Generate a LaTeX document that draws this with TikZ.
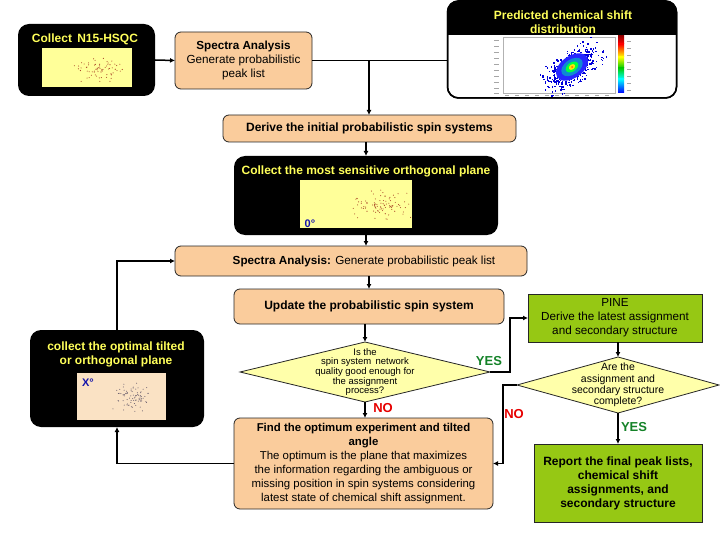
\documentclass[tikz,border=0pt]{standalone}
\usepackage{fontspec}
\setmainfont{Liberation Sans}
\usetikzlibrary{shapes.geometric,arrows.meta,calc}
\definecolor{peach}{RGB}{250,204,156}
\definecolor{lgreen}{RGB}{150,200,20}
\definecolor{dyel}{RGB}{255,255,170}
\definecolor{txtyel}{RGB}{255,255,90}
\definecolor{imgyel}{RGB}{255,255,153}
\definecolor{imgpeach}{RGB}{250,226,196}
\definecolor{yesgreen}{RGB}{20,130,40}
\definecolor{nored}{RGB}{230,0,0}
\definecolor{dotbrown}{RGB}{170,70,40}
\definecolor{dotgray}{RGB}{90,80,100}
\definecolor{xblue}{RGB}{20,20,170}
\begin{document}
\begin{tikzpicture}[x=1pt,y=-1pt,
 every node/.style={inner sep=0pt, outer sep=0pt},
 peachbox/.style={draw=black!85, line width=0.8pt, fill=peach, rounded corners=6pt, align=center},
 greenbox/.style={draw=black!85, line width=1pt, fill=lgreen, align=center},
 blackbox/.style={fill=black, rounded corners=11pt},
 dia/.style={diamond, draw=black!85, line width=0.8pt, fill=dyel},
 arr/.style={line width=1.5pt, -{Latex[length=5pt,width=5pt]}},
 ln/.style={line width=1.5pt},
 ftn/.style={font=\fontsize{11.7}{14}\selectfont},
 ftb/.style={font=\bfseries\fontsize{12}{14}\selectfont},
 ylab/.style={text=txtyel, font=\bfseries\fontsize{12}{14}\selectfont, align=center},
 yes/.style={text=yesgreen, font=\bfseries\fontsize{13}{14}\selectfont},
 no/.style={text=nored, font=\bfseries\fontsize{13}{14}\selectfont},
 deg/.style={text=xblue, font=\bfseries\fontsize{11}{12}\selectfont}
]
\useasboundingbox (0,0) rectangle (720,540);

% ---------- Collect N15-HSQC ----------
\node[blackbox, minimum width=137pt, minimum height=72pt] (hsqc) at (86.5,60) {};
\node[ylab] (hsqct) at (85,39) {Collect\, N15-HSQC};
\node[fill=imgyel, minimum width=90pt, minimum height=39pt] (img1) at (87,67.5) {};
\pgfmathsetseed{7}
\foreach \i in {1,...,70}{
  \pgfmathsetmacro\dx{10+14*(rand+rand)}
  \pgfmathsetmacro\dy{2+7*(rand+rand)}
  \fill[dotbrown] ($(img1.center)+(\dx,\dy)$) circle (0.55);
}

% ---------- Spectra analysis 1 ----------
\node[peachbox, ftn, minimum width=137pt, minimum height=57pt] (spec1) at (243.5,60.5)
  {\textbf{Spectra Analysis}\\Generate probabilistic\\peak list};

% ---------- Predicted chemical shift ----------
\node[draw=black, line width=1.5pt, fill=white, rounded corners=11pt, minimum width=229pt, minimum height=97pt] (pred) at (562,49.5) {};
\begin{scope}
  \clip[rounded corners=11pt] (pred.south west) rectangle (pred.north east);
  \fill[black] (pred.north west) rectangle ($(pred.north east)+(0,34)$);
\end{scope}
\draw[line width=1.5pt, rounded corners=11pt] (pred.south west) rectangle (pred.north east);
\node[ylab] (predt) at (563,22) {Predicted chemical shift\\distribution};
% plot
\draw[gray!60, line width=0.3pt] (503,37) rectangle (615,93);
\foreach \yy in {40,46,52,58,64,70,76,82,88,93}{\fill[gray!70] (494,\yy) rectangle (499,\yy+0.8);}
\foreach \xx in {505,515,525,535,545,555,565,575,585,595,605}{\fill[gray!70] (\xx,95.5) rectangle (\xx+4,96.3);}
\pgfmathsetseed{11}
\foreach \i in {1,...,420}{
  \pgfmathsetmacro\u{19*(rand+rand)}
  \pgfmathsetmacro\v{9*(rand+rand)}
  \fill[blue!85!black] ($(572,67)+(\u*0.8+\v*0.6,-\u*0.6+\v*0.8)$) rectangle ++(1.4,1.4);
}
\begin{scope}[shift={(572,67)}]
  \fill[blue!85] (0,0) ellipse [x radius=18pt, y radius=11pt, rotate=35];
  \fill[cyan!70!blue] (0,0) ellipse [x radius=12pt, y radius=7.5pt, rotate=35];
  \fill[green!75!cyan] (0,0) ellipse [x radius=7pt, y radius=4.5pt, rotate=35];
  \fill[yellow!90!orange] (0,0) ellipse [x radius=3.5pt, y radius=2.5pt, rotate=35];
  \fill[orange!80!red] (0,0) circle (1);
\end{scope}
% colour bar
\shade[top color=red!60!black, bottom color=red] (618,36) rectangle (624,44);
\shade[top color=red, bottom color=yellow] (618,44) rectangle (624,57);
\shade[top color=yellow, bottom color=green!80!black] (618,57) rectangle (624,68);
\shade[top color=green!80!black, bottom color=cyan] (618,68) rectangle (624,79);
\shade[top color=cyan, bottom color=blue] (618,79) rectangle (624,93);
\foreach \yy in {41,48,55,62,69,76,83,90}{\fill[gray!70] (627,\yy) rectangle (631,\yy+0.8);}

% ---------- Derive ----------
\node[peachbox, ftb, minimum width=293pt, minimum height=27pt] (derive) at (369.5,128.5)
  {Derive the initial probabilistic spin systems};

% ---------- Collect most sensitive ----------
\node[blackbox, minimum width=264pt, minimum height=79pt] (coll0) at (366,195.5) {};
\node[ylab] (coll0t) at (366,171) {Collect the most sensitive orthogonal plane};
\node[fill=imgyel, minimum width=112pt, minimum height=48pt] (img2) at (356,204) {};
\pgfmathsetseed{21}
\foreach \i in {1,...,90}{
  \pgfmathsetmacro\dx{24+16*(rand+rand)}
  \pgfmathsetmacro\dy{1+8*(rand+rand)}
  \fill[dotbrown] ($(img2.center)+(\dx,\dy)$) circle (0.55);
}
\node[deg] (zdeg) at (310,224) {0°};

% ---------- Spectra analysis 2 ----------
\node[peachbox, ftn, minimum width=352pt, minimum height=30pt] (spec2) at (351,261)
  {\hspace*{26pt}\textbf{Spectra Analysis:} Generate probabilistic peak list};

% ---------- Update ----------
\node[peachbox, ftb, minimum width=270pt, minimum height=35pt] (update) at (369,306.5)
  {Update the probabilistic spin system};

% ---------- Diamond 1 ----------
\node[dia, minimum width=250pt, minimum height=60pt] (d1) at (365,372) {};
\node[align=center, font=\fontsize{9.5}{9.6}\selectfont] (d1t) at (365,372)
  {Is the\\spin system\, network\\quality good enough for\\the assignment\\process?};

% ---------- Find optimum ----------
\node[peachbox, font=\fontsize{11.4}{14}\selectfont, minimum width=259pt, minimum height=91pt] (find) at (363.5,463.5)
  {\textbf{Find the optimum experiment and tilted}\\\textbf{angle}\\The optimum is the plane that maximizes\\the information regarding the ambiguous or\\missing position in spin systems considering\\latest state of chemical shift assignment.};

% ---------- Collect optimal ----------
\node[blackbox, minimum width=174pt, minimum height=97pt] (collopt) at (117,378.5) {};
\node[ylab] (colloptt) at (116,354) {collect the optimal tilted\\or orthogonal plane};
\node[fill=imgpeach, minimum width=89pt, minimum height=47pt] (img3) at (121.5,396.5) {};
\pgfmathsetseed{5}
\foreach \i in {1,...,80}{
  \pgfmathsetmacro\dx{10+12*(rand+rand)}
  \pgfmathsetmacro\dy{1+8*(rand+rand)}
  \fill[dotgray] ($(img3.center)+(\dx,\dy)$) circle (0.5);
}
\node[deg] (xdeg) at (88,383) {X°};

% ---------- PINE ----------
\node[greenbox, ftn, minimum width=174pt, minimum height=48pt] (pine) at (615,318)
  {PINE\\Derive the latest assignment\\and secondary structure};

% ---------- Diamond 2 ----------
\node[dia, minimum width=202pt, minimum height=56pt] (d2) at (618,385) {};
\node[align=center, font=\fontsize{10.5}{11.3}\selectfont] (d2t) at (618,385)
  {Are the\\assignment and\\secondary structure\\complete?};

% ---------- Report ----------
\node[greenbox, ftb, minimum width=168pt, minimum height=78pt] (report) at (618,483)
  {Report the final peak lists,\\chemical shift\\assignments, and\\secondary structure};

% ---------- labels ----------
\node[yes] (yes1) at (489,361) {YES};
\node[no] (no1) at (383,408) {NO};
\node[no] (no2) at (514,414) {NO};
\node[yes] (yes2) at (634,427) {YES};

% ---------- connectors ----------
\draw[arr] (hsqc.east) -- (spec1.west);
\draw[ln] (spec1.east) -- (spec1.east -| pred.west);
\coordinate (j1) at (369,61);
\draw[arr] (j1) -- (derive.north -| j1);
\draw[arr] (derive.south -| coll0.north) -- (coll0.north);
\draw[arr] (coll0.south) -- (coll0.south |- spec2.north);
\draw[arr] (spec2.south -| update.north) -- (update.north);
\draw[arr] (update.south -| d1.north) -- (d1.north);
\draw[arr] (d1.south) -- (d1.south |- find.north);
\draw[arr] (find.west) -| (collopt.south);
\draw[arr] (collopt.north) |- (spec2.west);
\draw[arr] (d1.east) -- ++(20,0) |- (pine.west);
\draw[arr] (pine.south -| d2.north) -- (d2.north);
\draw[arr] (d2.west) -- ++(-14,0) |- (find.east);
\draw[arr] (d2.south) -- (report.north);
\end{tikzpicture}
\end{document}
